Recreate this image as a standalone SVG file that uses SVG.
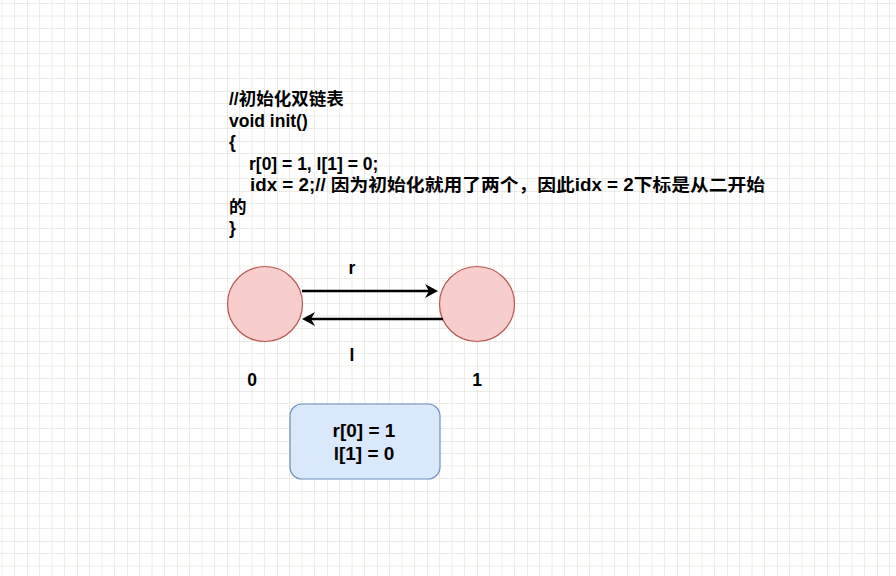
<svg xmlns="http://www.w3.org/2000/svg" width="896" height="576" viewBox="0 0 896 576">
<defs>
<pattern id="grid" width="50" height="50" x="27" y="41" patternUnits="userSpaceOnUse">
<path d="M12.5 0V50M25 0V50M37.5 0V50M0 12.5H50M0 25H50M0 37.5H50" stroke="#ececE6" stroke-width="1" fill="none"/>
<path d="M0 0V50M0 0H50" stroke="#d8d8d0" stroke-width="1" fill="none"/>
</pattern>
<marker id="arr" viewBox="0 0 13 14" refX="4" refY="7" markerWidth="13" markerHeight="14" orient="auto" markerUnits="userSpaceOnUse">
<path d="M0 0L13 7L0 14L4 7Z" fill="#000"/>
</marker>
<style>
.t{font-family:"Liberation Sans","Noto Sans CJK SC",Arial,sans-serif;font-weight:bold;font-size:17.5px;fill:#000}
.c{text-anchor:middle}
.b{font-size:19px}
.node{fill:#f8cecc;stroke:#b85450;stroke-width:1.2}
.edge{stroke:#000;stroke-width:2.6;fill:none}
</style>
</defs>
<rect width="896" height="576" fill="#fff"/>
<rect width="896" height="576" fill="url(#grid)"/>
<g id="code">
<text class="t" x="229" y="105">//初始化双链表</text>
<text class="t" x="229" y="126.5">void init()</text>
<text class="t" x="229" y="148">{</text>
<text class="t" x="249" y="169.5">r[0] = 1, l[1] = 0;</text>
<text class="t" x="250" y="191" textLength="515" lengthAdjust="spacingAndGlyphs">idx = 2;// 因为初始化就用了两个，因此idx = 2下标是从二开始</text>
<text class="t" x="229" y="212.5">的</text>
<text class="t" x="229" y="234">}</text>
</g>
<g id="node0">
<circle class="node" cx="265" cy="304" r="37.5"/>
</g>
<g id="node1">
<circle class="node" cx="477" cy="304" r="37.5"/>
</g>
<g id="connectors">
<line class="edge" x1="302" y1="291" x2="429" y2="291" marker-end="url(#arr)"/>
<line class="edge" x1="443" y1="319" x2="311" y2="319" marker-end="url(#arr)"/>
</g>
<g id="labels">
<text class="t c" x="352" y="274">r</text>
<text class="t c" x="352" y="361">l</text>
<text class="t c" x="252" y="386">0</text>
<text class="t c" x="477" y="386">1</text>
</g>
<g id="box">
<rect x="290" y="404" width="150" height="75" rx="12" fill="#dae8fc" stroke="#6c8ebf" stroke-width="1.2"/>
<text class="t c b" x="364" y="437">r[0] = 1</text>
<text class="t c b" x="364" y="460">l[1] = 0</text>
</g>
</svg>
